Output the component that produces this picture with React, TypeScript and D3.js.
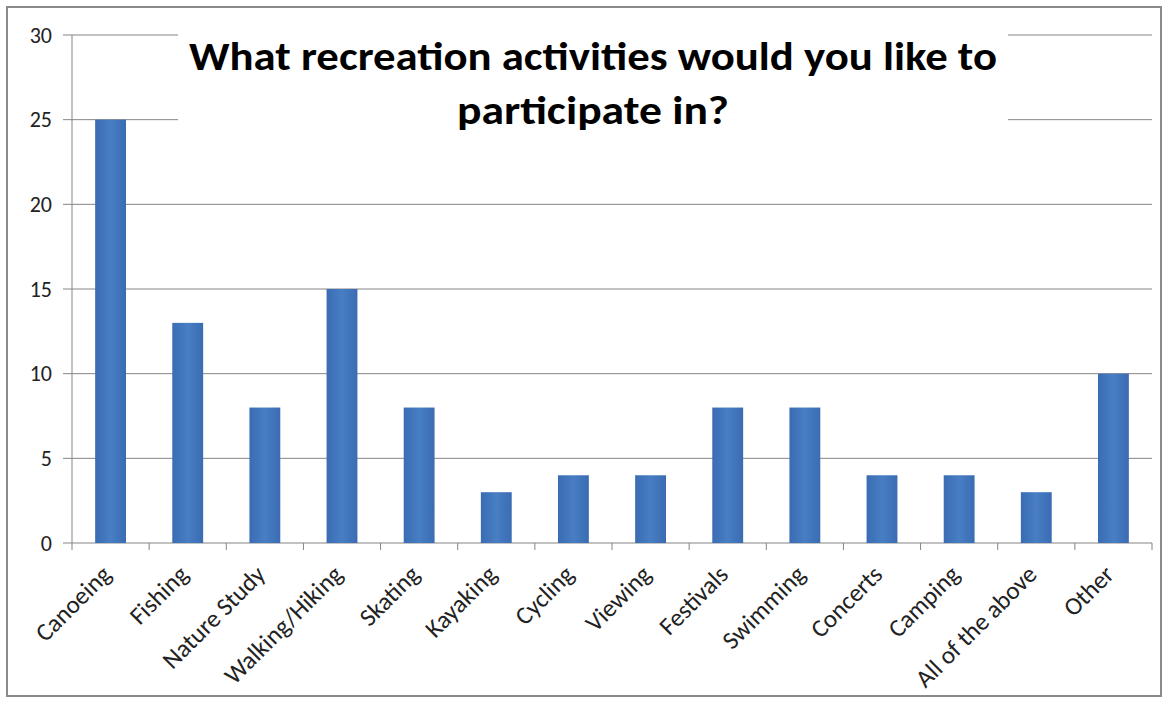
import React from "react";
import * as d3 from "d3";

const categories = [
  "Canoeing", "Fishing", "Nature Study", "Walking/Hiking", "Skating", "Kayaking",
  "Cycling", "Viewing", "Festivals", "Swimming", "Concerts", "Camping",
  "All of the above", "Other",
];
const counts = [25, 13, 8, 15, 8, 3, 4, 4, 8, 8, 4, 4, 3, 10];
const yTicks = [0, 5, 10, 15, 20, 25, 30];
const titleLines = ["What recreation activities would you like to", "participate in?"];

const W = 1168;
const H = 704;
const plot = { left: 72, right: 1152, top: 35, bottom: 543 };

export default function App() {
  const x = d3
    .scaleBand<string>()
    .domain(categories)
    .range([plot.left, plot.right])
    .paddingInner(0.6)
    .paddingOuter(0.3);
  const xOuter = d3.scaleBand<string>().domain(categories).range([plot.left, plot.right]);
  const y = d3.scaleLinear().domain([0, 30]).range([plot.bottom, plot.top]);
  const font = "Calibri, Carlito, 'Open Sans', 'Liberation Sans', sans-serif";

  return (
    <div style={{ position: "absolute", left: 0, top: 0, background: "#fff" }}>
      <svg width={W} height={H} style={{ display: "block" }}>
        <defs>
          <linearGradient id="barGrad" x1="0" x2="1" y1="0" y2="0">
            <stop offset="0%" stopColor="#3a6cb3" />
            <stop offset="50%" stopColor="#487ec3" />
            <stop offset="100%" stopColor="#3a6cb3" />
          </linearGradient>
        </defs>
        <rect x={0} y={0} width={W} height={H} fill="#fff" />
        <rect x={7} y={7} width={1154} height={689} fill="#fff" stroke="#8a8a8a" strokeWidth={2} />
        {yTicks.map((t) => (
          <line key={"g" + t} x1={plot.left - 9} x2={plot.right} y1={y(t)} y2={y(t)} stroke="#858585" strokeWidth={1} />
        ))}
        <line x1={plot.left} x2={plot.left} y1={plot.top} y2={plot.bottom} stroke="#858585" strokeWidth={1} />
        {categories.map((c, i) => (
          <line key={"xt" + i} x1={xOuter(c)!} x2={xOuter(c)!} y1={plot.bottom} y2={plot.bottom + 7} stroke="#858585" />
        ))}
        <line x1={plot.right} x2={plot.right} y1={plot.bottom} y2={plot.bottom + 7} stroke="#858585" />
        {categories.map((c, i) => (
          <rect key={"b" + i} x={x(c)!} y={y(counts[i])} width={x.bandwidth()} height={y(0) - y(counts[i])} fill="url(#barGrad)" />
        ))}
        {yTicks.map((t) => (
          <text key={"yl" + t} x={52} y={y(t)} dy="0.35em" textAnchor="end" fontFamily={font} fontSize={22} fill="#222">
            {t}
          </text>
        ))}
        {categories.map((c) => {
          const cx = xOuter(c)! + xOuter.bandwidth() / 2 + 2;
          const cy = plot.bottom + 33;
          return (
            <text key={"xl" + c} transform={`translate(${cx},${cy}) rotate(-45)`} textAnchor="end" fontFamily={font} fontSize={25} fill="#222">
              {c}
            </text>
          );
        })}
        <rect x={178} y={28} width={830} height={104} fill="#fff" />
        <text x={593} y={70} textAnchor="middle" fontFamily={font} fontWeight={700} fontSize={40} fill="#000" textLength={808} lengthAdjust="spacingAndGlyphs">
          {titleLines[0]}
        </text>
        <text x={593} y={124} textAnchor="middle" fontFamily={font} fontWeight={700} fontSize={40} fill="#000" textLength={272} lengthAdjust="spacingAndGlyphs">
          {titleLines[1]}
        </text>
      </svg>
    </div>
  );
}
